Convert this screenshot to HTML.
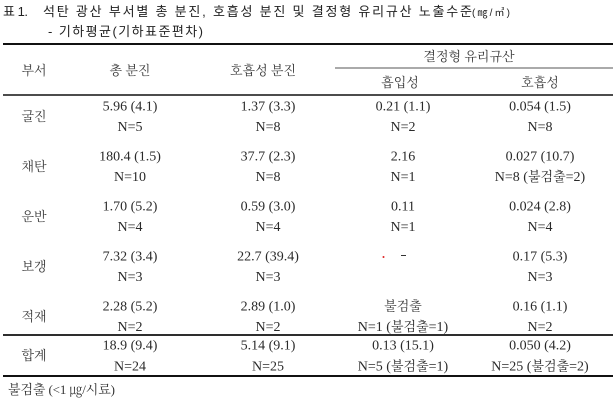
<!DOCTYPE html>
<html><head><meta charset="utf-8">
<style>
html,body{margin:0;padding:0;background:#fff;}
svg{display:block;}
.s{font-family:"Liberation Sans","Noto Sans CJK KR",sans-serif;fill:#222;}
.t{font-family:"Liberation Serif","Noto Serif CJK SC",serif;fill:#2a2a2a;text-anchor:middle;font-size:14px;}
.k{font-family:"Liberation Serif","Noto Serif CJK SC",serif;fill:#3a3a3a;text-anchor:middle;font-size:13px;}
.kk{font-size:13px;}
</style></head>
<body>
<svg width="614" height="403" viewBox="0 0 614 403" xmlns="http://www.w3.org/2000/svg">
<!-- title -->
<text class="s" x="3" y="16" font-size="13" textLength="25" lengthAdjust="spacing">표 1.</text>
<text class="s" x="43" y="16" font-size="13" textLength="429" lengthAdjust="spacing">석탄 광산 부서별 총 분진, 호흡성 분진 및 결정형 유리규산 노출수준</text>
<text class="s" x="472" y="16" font-size="10" textLength="38" lengthAdjust="spacing">(㎎/㎥)</text>
<text class="s" x="48" y="36" font-size="13" textLength="155" lengthAdjust="spacing">- 기하평균(기하표준편차)</text>

<!-- lines -->
<line x1="3" y1="44" x2="613" y2="44" stroke="#111" stroke-width="2"/>
<line x1="335" y1="68" x2="613" y2="68" stroke="#555" stroke-width="1"/>
<line x1="3" y1="95" x2="613" y2="95" stroke="#111" stroke-width="1.6"/>
<line x1="3" y1="335" x2="613" y2="335" stroke="#111" stroke-width="1.8"/>
<line x1="3" y1="376" x2="613" y2="376" stroke="#111" stroke-width="2"/>

<!-- headers -->
<text class="k" x="34" y="75">부서</text>
<text class="k" x="130" y="75">총 분진</text>
<text class="k" x="263" y="75">호흡성 분진</text>
<text class="k" x="469" y="61">결정형 유리규산</text>
<text class="k" x="400" y="87">흡입성</text>
<text class="k" x="540" y="87">호흡성</text>

<!-- row labels -->
<text class="k" x="34" y="121">굴진</text>
<text class="k" x="34" y="171">채탄</text>
<text class="k" x="34" y="221">운반</text>
<text class="k" x="34" y="271">보갱</text>
<text class="k" x="34" y="321">적재</text>
<text class="k" x="34" y="360">합계</text>

<!-- row 1 굴진 -->
<text class="t" x="130" y="110.5">5.96 (4.1)</text>
<text class="t" x="130" y="131">N=5</text>
<text class="t" x="268" y="110.5">1.37 (3.3)</text>
<text class="t" x="268" y="131">N=8</text>
<text class="t" x="403" y="110.5">0.21 (1.1)</text>
<text class="t" x="403" y="131">N=2</text>
<text class="t" x="540" y="110.5">0.054 (1.5)</text>
<text class="t" x="540" y="131">N=8</text>

<!-- row 2 채탄 -->
<text class="t" x="130" y="160.5">180.4 (1.5)</text>
<text class="t" x="130" y="181">N=10</text>
<text class="t" x="268" y="160.5">37.7 (2.3)</text>
<text class="t" x="268" y="181">N=8</text>
<text class="t" x="403" y="160.5">2.16</text>
<text class="t" x="403" y="181">N=1</text>
<text class="t" x="540" y="160.5">0.027 (10.7)</text>
<text class="t" x="540" y="181">N=8 (<tspan class="kk">불검출</tspan>=2)</text>

<!-- row 3 운반 -->
<text class="t" x="130" y="210.5">1.70 (5.2)</text>
<text class="t" x="130" y="231">N=4</text>
<text class="t" x="268" y="210.5">0.59 (3.0)</text>
<text class="t" x="268" y="231">N=4</text>
<text class="t" x="403" y="210.5">0.11</text>
<text class="t" x="403" y="231">N=1</text>
<text class="t" x="540" y="210.5">0.024 (2.8)</text>
<text class="t" x="540" y="231">N=4</text>

<!-- row 4 보갱 -->
<text class="t" x="130" y="260.5">7.32 (3.4)</text>
<text class="t" x="130" y="281">N=3</text>
<text class="t" x="268" y="260.5">22.7 (39.4)</text>
<text class="t" x="268" y="281">N=3</text>
<circle cx="383.5" cy="257" r="1" fill="#d22"/>
<rect x="401" y="255" width="5" height="1" fill="#333"/>
<text class="t" x="540" y="260.5">0.17 (5.3)</text>
<text class="t" x="540" y="281">N=3</text>

<!-- row 5 적재 -->
<text class="t" x="130" y="310.5">2.28 (5.2)</text>
<text class="t" x="130" y="331">N=2</text>
<text class="t" x="268" y="310.5">2.89 (1.0)</text>
<text class="t" x="268" y="331">N=2</text>
<text class="k" x="403" y="310.5">불검출</text>
<text class="t" x="403" y="331">N=1 (<tspan class="kk">불검출</tspan>=1)</text>
<text class="t" x="540" y="310.5">0.16 (1.1)</text>
<text class="t" x="540" y="331">N=2</text>

<!-- 합계 -->
<text class="t" x="130" y="349.5">18.9 (9.4)</text>
<text class="t" x="130" y="370.5">N=24</text>
<text class="t" x="268" y="349.5">5.14 (9.1)</text>
<text class="t" x="268" y="370.5">N=25</text>
<text class="t" x="403" y="349.5">0.13 (15.1)</text>
<text class="t" x="403" y="370.5">N=5 (<tspan class="kk">불검출</tspan>=1)</text>
<text class="t" x="540" y="349.5">0.050 (4.2)</text>
<text class="t" x="540" y="370.5">N=25 (<tspan class="kk">불검출</tspan>=2)</text>

<!-- footnote -->
<text x="8" y="394" font-family="Liberation Serif, Noto Serif CJK SC, serif" font-size="13" fill="#333" textLength="107" lengthAdjust="spacing">불검출 (&lt;1 ㎍/시료)</text>
</svg>
</body></html>
